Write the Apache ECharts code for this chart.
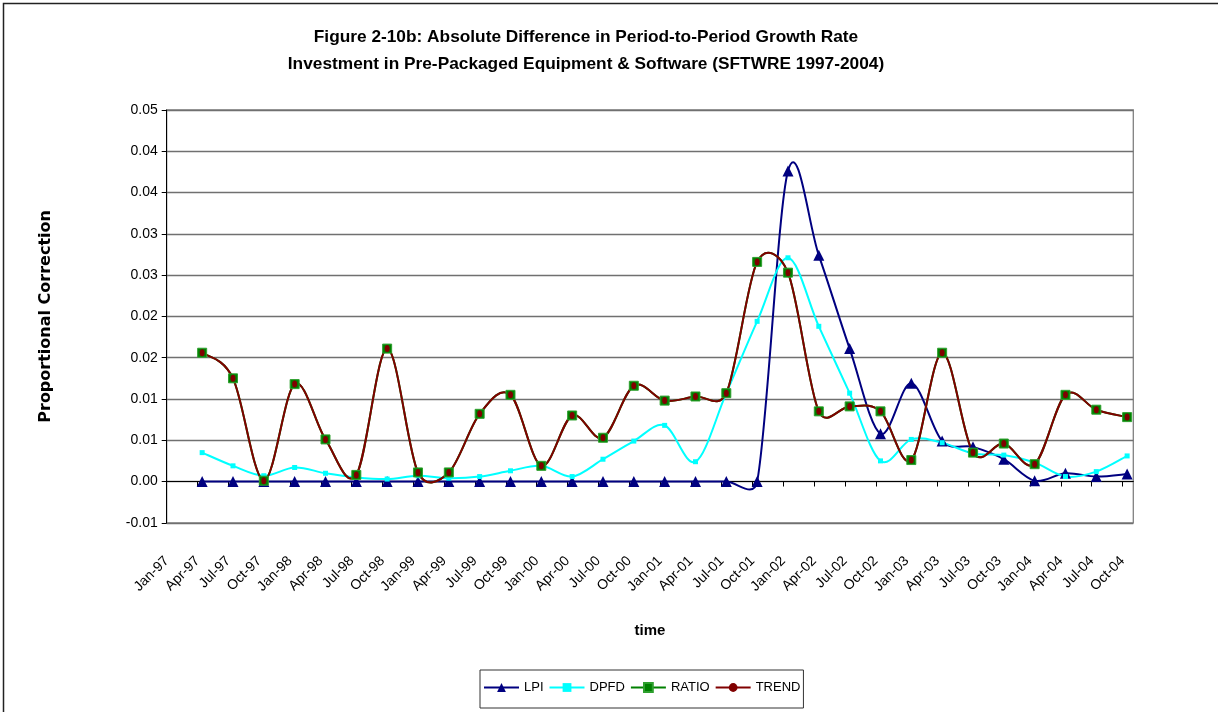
<!DOCTYPE html>
<html>
<head>
<meta charset="utf-8">
<script src="https://cdn.jsdelivr.net/npm/echarts@6/dist/echarts.min.js"></script>
<style>
html,body{margin:0;padding:0;background:#fff;}
#chart{width:1218px;height:712px;}
</style>
</head>
<body>
<div id="chart"></div>
<script>
// ---- data ----
const quarters = ['Jan-97','Apr-97','Jul-97','Oct-97','Jan-98','Apr-98','Jul-98','Oct-98','Jan-99','Apr-99','Jul-99','Oct-99','Jan-00','Apr-00','Jul-00','Oct-00','Jan-01','Apr-01','Jul-01','Oct-01','Jan-02','Apr-02','Jul-02','Oct-02','Jan-03','Apr-03','Jul-03','Oct-03','Jan-04','Apr-04','Jul-04','Oct-04'];
// observations start at Apr-97 (index 1)
const lpi = [0,0,0,0,0,0,0,0,0,0,0,0,0,0,0,0,0,0,0,0.0376,0.0274,0.0161,0.0058,0.0119,0.0049,0.0042,0.0027,0.0001,0.0010,0.0006,0.0009];
const dpfd = [0.0035,0.0019,0.0007,0.0017,0.0010,0.0005,0.0003,0.0007,0.0004,0.0006,0.0013,0.0019,0.0006,0.0027,0.0049,0.0068,0.0024,0.0107,0.0194,0.0271,0.0188,0.0107,0.0025,0.0051,0.0047,0.0034,0.0032,0.0023,0.0006,0.0012,0.0031];
const ratio = [0.0156,0.0125,0.0001,0.0118,0.0051,0.0008,0.0161,0.0011,0.0011,0.0082,0.0105,0.0019,0.0080,0.0053,0.0116,0.0098,0.0103,0.0107,0.0266,0.0253,0.0085,0.0091,0.0085,0.0026,0.0156,0.0035,0.0046,0.0021,0.0105,0.0087,0.0078];
const trend = [0.0156,0.0125,0.0001,0.0118,0.0051,0.0008,0.0161,0.0011,0.0011,0.0082,0.0105,0.0019,0.0080,0.0053,0.0116,0.0098,0.0103,0.0107,0.0266,0.0253,0.0085,0.0091,0.0085,0.0026,0.0156,0.0035,0.0046,0.0021,0.0105,0.0087,0.0078];
const firstObs = 1;          // first observed quarter index (Apr-97)
const obsMonthOffset = 0.45; // observations dated mid-month
const yTicks = {min: -0.005, max: 0.045, interval: 0.005};

// ---- fonts ----
function hasFont(name){
  const c = document.createElement('canvas').getContext('2d');
  const s = 'abcdefgWMIL0.05 Jan-97';
  c.font = '40px monospace'; const w1 = c.measureText(s).width;
  c.font = '40px "' + name + '", monospace'; const w2 = c.measureText(s).width;
  return Math.abs(w1 - w2) > 0.5;
}
const NARROW = hasFont('Liberation Sans Narrow');
const FONT = NARROW ? '"Liberation Sans Narrow", "Arial Narrow", sans-serif' : '"Liberation Sans", Arial, sans-serif';
const LBL = NARROW ? 16 : 14;
const LEG = NARROW ? 16 : 13;
const TTL = NARROW ? 21 : 17.3;

const monthOf = i => i * 3;
const toPairs = arr => arr.map((v, k) => [monthOf(k + firstObs) + obsMonthOffset, v]);
const tickMonths = quarters.map((q, i) => monthOf(i));

function fmtY(v){
  const s = v < 0 ? -1 : 1;
  const r = Math.round(Math.abs(v) * 100 + 1e-6) / 100;
  return (s * r).toFixed(2);
}

// Spreadsheet-style smoothed curve: cubic Bezier per segment, tangent (P[i+1]-P[i-1])/6,
// control arm capped relative to the segment length.
function smoothSegment(color){
  return function (params, api) {
    const i = params.dataIndexInside, n = params.dataInsideLength;
    if (i >= n - 1) return null;
    const P = j => { j = Math.max(0, Math.min(n - 1, j)); return api.coord([api.value(0, j), api.value(1, j)]); };
    const p0 = P(i - 1), p1 = P(i), p2 = P(i + 1), p3 = P(i + 2);
    const d = Math.hypot(p2[0] - p1[0], p2[1] - p1[1]);
    const cap = (vx, vy) => {
      const L = Math.hypot(vx, vy), lim = 0.6 * d;
      const s = L > lim && L > 0 ? lim / L : 1;
      return [vx * s, vy * s];
    };
    const a = cap((p2[0] - p0[0]) / 6, (p2[1] - p0[1]) / 6);
    const b = cap((p3[0] - p1[0]) / 6, (p3[1] - p1[1]) / 6);
    return {
      type: 'bezierCurve',
      shape: {x1: p1[0], y1: p1[1], x2: p2[0], y2: p2[1],
              cpx1: p1[0] + a[0], cpy1: p1[1] + a[1], cpx2: p2[0] - b[0], cpy2: p2[1] - b[1]},
      style: {fill: 'none', stroke: color, lineWidth: 2}
    };
  };
}

const styles = {
  LPI:   {color: '#000080', symbol: 'triangle', size: 11},
  DPFD:  {color: '#00FFFF', symbol: 'rect', size: 5},
  RATIO: {color: '#008000', symbol: 'rect', size: 9, border: '#2ea02e'},
  TREND: {color: '#800000', symbol: 'circle', size: [5, 7]}
};
const seriesData = {LPI: lpi, DPFD: dpfd, RATIO: ratio, TREND: trend};

const series = [];
Object.keys(seriesData).forEach(name => {
  const st = styles[name];
  const pairs = toPairs(seriesData[name]);
  series.push({
    name: name + ' curve', type: 'custom', coordinateSystem: 'cartesian2d',
    data: pairs, renderItem: smoothSegment(st.color), silent: true, clip: false
  });
  series.push({
    name: name, type: 'line', data: pairs, smooth: false,
    symbol: st.symbol, symbolSize: st.size, showAllSymbol: true,
    lineStyle: {color: st.color, width: 2, opacity: 0},
    itemStyle: st.border ? {color: st.color, borderColor: st.border, borderWidth: 1} : {color: st.color}
  });
});

const chart = echarts.init(document.getElementById('chart'), null, {renderer: 'canvas'});
chart.setOption({
  backgroundColor: '#fff',
  animation: false,
  title: {
    text: 'Figure 2-10b: Absolute Difference in Period-to-Period Growth Rate\nInvestment in Pre-Packaged Equipment & Software (SFTWRE 1997-2004)',
    left: 586, top: 24, textAlign: 'center', padding: 0,
    textStyle: {fontFamily: FONT, fontWeight: 'bold', fontSize: TTL, lineHeight: 27, color: '#000'}
  },
  graphic: [{
    type: 'rect', silent: true, z: 100,
    shape: {x: 3.5, y: 3.5, width: 1400, height: 900},
    style: {fill: 'none', stroke: '#222', lineWidth: 1.5}
  }],
  legend: {
    data: Object.keys(styles).map(n => ({name: n, lineStyle: {color: styles[n].color, width: 2, opacity: 1}})),
    left: 480, top: 670,
    padding: [11, 3, 14, 3],
    itemWidth: 35, itemHeight: 11, itemGap: 5,
    borderColor: '#333', borderWidth: 1,
    textStyle: {fontFamily: FONT, fontSize: LEG, color: '#000'}
  },
  grid: {left: 166.7, right: 84.7, top: 110, bottom: 189.2, show: true, borderColor: '#808080', borderWidth: 1.3, outerBoundsMode: 'none'},
  xAxis: {
    type: 'value', min: 0, max: 94.05,
    name: 'time', nameLocation: 'middle', nameGap: 101, nameMoveOverlap: false,
    nameTextStyle: {fontFamily: '"Liberation Sans", Arial, sans-serif', fontWeight: 'bold', fontSize: 15, color: '#000'},
    axisLine: {show: true, onZero: true, lineStyle: {color: '#000', width: 1}},
    axisTick: {show: true, length: 5, customValues: tickMonths, lineStyle: {color: '#000'}},
    axisLabel: {
      customValues: tickMonths, rotate: 45, margin: 36,
      formatter: v => quarters[Math.round(v / 3)],
      fontFamily: FONT, fontSize: LBL, color: '#000'
    },
    splitLine: {show: false}
  },
  yAxis: {
    type: 'value', min: yTicks.min, max: yTicks.max, interval: yTicks.interval,
    name: 'Proportional Correction', nameLocation: 'middle', nameRotate: 90, nameGap: 113, nameMoveOverlap: false,
    nameTextStyle: {fontFamily: '"DejaVu Sans", sans-serif', fontWeight: 'bold', fontSize: 16, color: '#000'},
    axisLine: {show: true, lineStyle: {color: '#000', width: 1}},
    axisTick: {show: true, length: 5, lineStyle: {color: '#000'}},
    axisLabel: {formatter: fmtY, margin: 9, fontFamily: FONT, fontSize: LBL, color: '#000'},
    splitLine: {show: true, lineStyle: {color: '#707070', width: 1.3}}
  },
  series: series
});
</script>
</body>
</html>
